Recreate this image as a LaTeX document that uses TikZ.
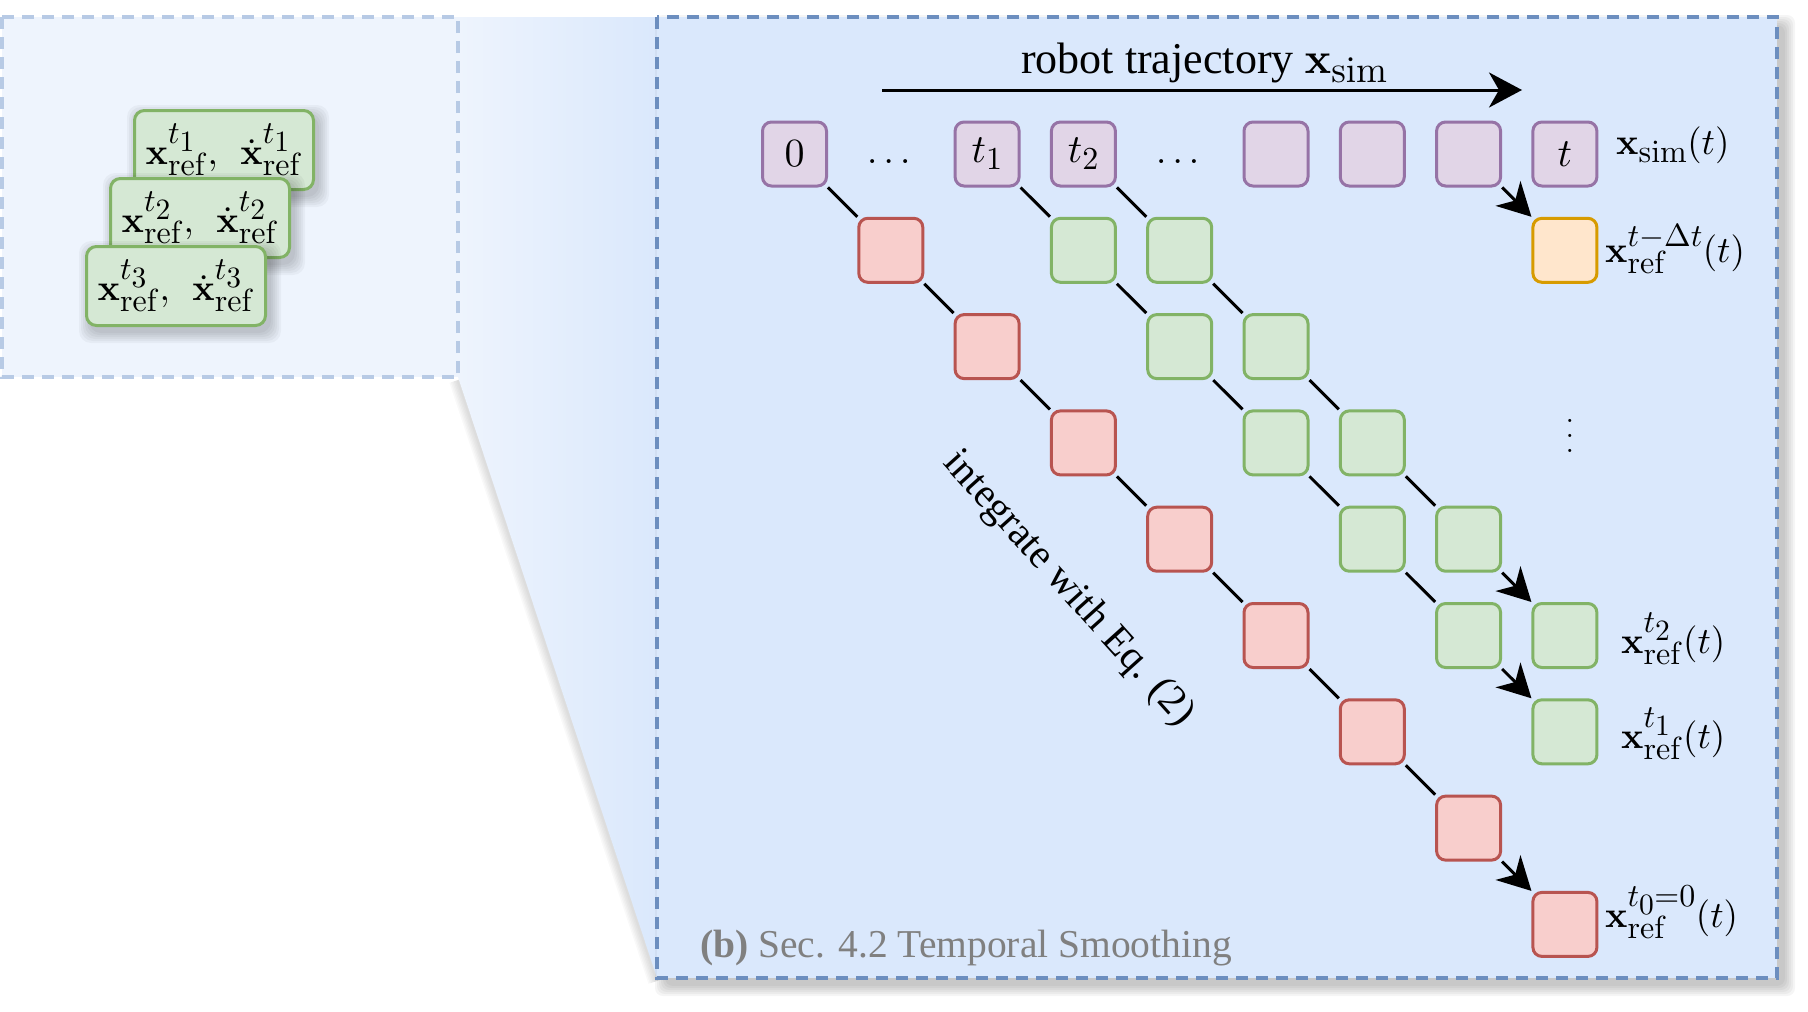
\RequirePackage{fix-cm}
\documentclass[tikz,border=0pt]{standalone}
\usepackage[no-math]{fontspec}
\newfontfamily\gfont{Liberation Serif}
\usetikzlibrary{arrows.meta}
\DeclareFontShape{OT1}{cmr}{m}{n}{<->cmr10}{}
\DeclareFontShape{OT1}{cmr}{bx}{n}{<->cmbx10}{}
\DeclareFontShape{OML}{cmm}{m}{it}{<->cmmi10}{}
\DeclareFontShape{OMS}{cmsy}{m}{n}{<->cmsy10}{}
\DeclareMathSizes{37}{37}{32}{29.5}
\DeclareMathSizes{40}{40}{32}{27}
\DeclareMathSizes{44}{44}{37}{32}
\definecolor{pfill}{HTML}{E1D5E7}
\definecolor{pline}{HTML}{9673A6}
\definecolor{rfill}{HTML}{F8CECC}
\definecolor{rline}{HTML}{B85450}
\definecolor{gfill}{HTML}{D5E8D4}
\definecolor{gline}{HTML}{82B366}
\definecolor{ofill}{HTML}{FFE6CC}
\definecolor{oline}{HTML}{D79B00}
\definecolor{mfill}{HTML}{DAE8FC}
\definecolor{mline}{HTML}{6C8EBF}
\definecolor{lfill}{HTML}{EEF4FD}
\definecolor{lline}{HTML}{B7CAE5}
\definecolor{capgray}{HTML}{808080}
\begin{document}
\begin{tikzpicture}[x=1pt,y=-1pt,
  box/.style={rounded corners=9pt, minimum size=64pt, inner sep=0pt, line width=3pt, font=\fontsize{40}{48}\selectfont},
  pbox/.style={box, fill=pfill, draw=pline},
  rbox/.style={box, fill=rfill, draw=rline},
  gbox/.style={box, fill=gfill, draw=gline},
  obox/.style={box, fill=ofill, draw=oline},
  sbox/.style={rounded corners=10pt, minimum width=179pt, minimum height=79pt, inner sep=0pt, line width=3pt, fill=gfill, draw=gline, font=\fontsize{37}{44}\selectfont},
  conn/.style={line width=3pt},
  arr/.style={line width=3pt, -{Stealth[length=33pt,width=35pt,inset=10pt]}},
  lbl/.style={inner sep=0pt, font=\fontsize{37}{44}\selectfont},
  txt/.style={inner sep=0pt, font=\gfont\fontsize{44}{52}\selectfont},
  panel/.style={line width=3.5pt, dash pattern=on 12pt off 8pt},
]
\useasboundingbox (0,0) rectangle (1808,1012);
% zoom trapezoid with soft edge shadow
\foreach \w in {3,6,...,18}
  \draw[black, opacity=0.025, line width=\w pt] (458,380) -- (657,981);
\shade[left color=lfill, right color=mfill] (458,17) -- (657,17) -- (657,978) -- (458,377) -- cycle;
% left panel
\draw[panel, fill=lfill, draw=lline] (2,17) rectangle (458,377);
% main panel shadow
\foreach \i in {0,2,...,10}
  \fill[black, opacity=0.04, rounded corners=8pt] (665-\i,25-\i) rectangle (1785+\i,986+\i);
\draw[panel, fill=mfill, draw=mline] (657,17) rectangle (1777,978);

% stacked reference boxes
\foreach \i in {0,2,...,10}
  \fill[black, opacity=0.035, rounded corners=12pt] (137-\i,115-\i) rectangle (319+\i,197+\i);
\node[sbox] (s1) at (224,150) {$\mathbf{x}^{t_1}_{\mathrm{ref}},\;\,\dot{\mathbf{x}}^{t_1}_{\mathrm{ref}}$};
\foreach \i in {0,2,...,10}
  \fill[black, opacity=0.035, rounded corners=12pt] (113-\i,183-\i) rectangle (295+\i,265+\i);
\node[sbox] (s2) at (200,218) {$\mathbf{x}^{t_2}_{\mathrm{ref}},\;\,\dot{\mathbf{x}}^{t_2}_{\mathrm{ref}}$};
\foreach \i in {0,2,...,10}
  \fill[black, opacity=0.035, rounded corners=12pt] (89-\i,251-\i) rectangle (271+\i,333+\i);
\node[sbox] (s3) at (176,286) {$\mathbf{x}^{t_3}_{\mathrm{ref}},\;\,\dot{\mathbf{x}}^{t_3}_{\mathrm{ref}}$};

% top arrow and title
\coordinate (ts) at (882,90);
\coordinate (te) at (1522,90);
\draw[arr] (ts) -- (te);
\node[txt, anchor=base west] (title) at (1021,73) {robot trajectory $\mathbf{x}_{\mathrm{sim}}$};

% purple row
\node[pbox] (p0) at (794.5,154) {$0$};
\node[lbl, anchor=base] (d1) at (888.8,163) {$\dots$};
\node[pbox] (p2) at (987.1,154) {$t_1$};
\node[pbox] (p3) at (1083.4,154) {$t_2$};
\node[lbl, anchor=base] (d4) at (1177.7,163) {$\dots$};
\node[pbox] (p5) at (1276.0,154) {};
\node[pbox] (p6) at (1372.3,154) {};
\node[pbox] (p7) at (1468.6,154) {};
\node[pbox] (p8) at (1564.9,154) {$t$};

% red chain
\node[rbox] (r1) at (890.8,250.3) {};
\node[rbox] (r2) at (987.1,346.6) {};
\node[rbox] (r3) at (1083.4,442.9) {};
\node[rbox] (r4) at (1179.7,539.2) {};
\node[rbox] (r5) at (1276.0,635.5) {};
\node[rbox] (r6) at (1372.3,731.8) {};
\node[rbox] (r7) at (1468.6,828.1) {};
\node[rbox] (r8) at (1564.9,924.4) {};

% green chain from t1
\node[gbox] (a1) at (1083.4,250.3) {};
\node[gbox] (a2) at (1179.7,346.6) {};
\node[gbox] (a3) at (1276.0,442.9) {};
\node[gbox] (a4) at (1372.3,539.2) {};
\node[gbox] (a5) at (1468.6,635.5) {};
\node[gbox] (a6) at (1564.9,731.8) {};

% green chain from t2
\node[gbox] (b1) at (1179.7,250.3) {};
\node[gbox] (b2) at (1276.0,346.6) {};
\node[gbox] (b3) at (1372.3,442.9) {};
\node[gbox] (b4) at (1468.6,539.2) {};
\node[gbox] (b5) at (1564.9,635.5) {};

% orange
\node[obox] (o1) at (1564.9,250.3) {};

% connectors
\draw[conn] (p0) -- (r1);
\draw[conn] (r1) -- (r2);
\draw[conn] (r2) -- (r3);
\draw[conn] (r3) -- (r4);
\draw[conn] (r4) -- (r5);
\draw[conn] (r5) -- (r6);
\draw[conn] (r6) -- (r7);
\draw[arr] (r7) -- (r8);
\draw[conn] (p2) -- (a1);
\draw[conn] (a1) -- (a2);
\draw[conn] (a2) -- (a3);
\draw[conn] (a3) -- (a4);
\draw[conn] (a4) -- (a5);
\draw[arr] (a5) -- (a6);
\draw[conn] (p3) -- (b1);
\draw[conn] (b1) -- (b2);
\draw[conn] (b2) -- (b3);
\draw[conn] (b3) -- (b4);
\draw[arr] (b4) -- (b5);
\draw[arr] (p7) -- (o1);

% labels
\node[lbl, anchor=base west] (lsim) at (1616,154) {$\mathbf{x}_{\mathrm{sim}}(t)$};
\node[lbl, anchor=base west] (lo) at (1605,262) {$\mathbf{x}^{t-\Delta t}_{\mathrm{ref}}(t)$};
\node[lbl, anchor=base west] (lb) at (1621,653) {$\mathbf{x}^{t_2}_{\mathrm{ref}}(t)$};
\node[lbl, anchor=base west] (la) at (1621,748) {$\mathbf{x}^{t_1}_{\mathrm{ref}}(t)$};
\node[lbl, anchor=base west] (lr) at (1605,927) {$\mathbf{x}^{t_0=0}_{\mathrm{ref}}(t)$};
\node[inner sep=0pt, align=center, font=\fontsize{38}{15}\selectfont] (vd) at (1570,436) {.\\.\\.};

\node[txt, rotate=-48, font=\gfont\fontsize{41}{50}\selectfont] (integ) at (1068,589) {integrate with Eq. (2)};
\node[inner sep=0pt, anchor=base west, text=capgray, font=\gfont\fontsize{39.5}{48}\selectfont] (cap) at (700,957) {{\bfseries (b)} Sec. 4.2 Temporal Smoothing};
\end{tikzpicture}
\end{document}
